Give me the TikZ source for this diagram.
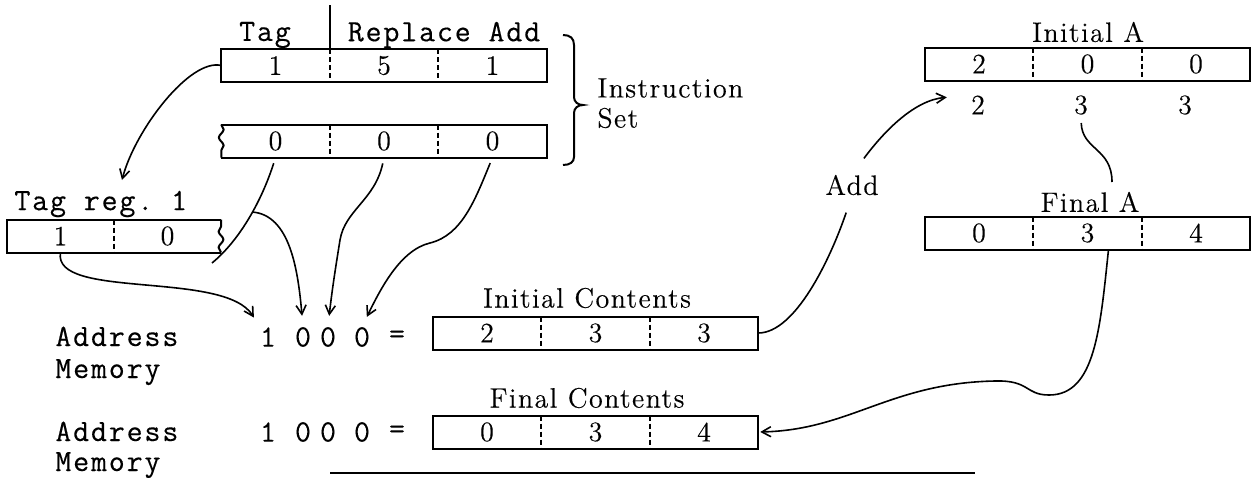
\documentclass[tikz,border=0pt]{standalone}
\usepackage{fontspec}
\setmainfont{Latin Modern Roman}[FakeBold=0.3]
\setmonofont{Latin Modern Mono}[FakeBold=0.3]
\usetikzlibrary{arrows.meta,positioning,decorations.pathmorphing}

\newcommand{\lblfont}{\fontsize{14pt}{16pt}\selectfont\addfontfeature{LetterSpace=5}}
\newcommand{\typfont}{\ttfamily\fontsize{15.5pt}{18pt}\selectfont\addfontfeature{LetterSpace=6}}

\begin{document}
\begin{tikzpicture}[
    x=0.5pt, y=-0.5pt,
    cell/.style={minimum width=54.25pt, minimum height=16.5pt, inner sep=0pt, outer sep=0pt, font=\lblfont},
    frame/.style={line width=1pt},
    div/.style={line width=0.8pt, dash pattern=on 2.5pt off 1.5pt},
    con/.style={line width=0.8pt},
    arr/.style={-{Straight Barb[length=4.5pt,width=5pt]}, line width=0.8pt},
    lbl/.style={font=\lblfont, inner sep=0pt},
    typ/.style={font=\typfont, inner sep=0pt},
    wavy/.style={frame, decorate, decoration={snake, segment length=8pt, amplitude=1.2pt}}
]
\useasboundingbox (0,0) rectangle (1252,477);

% instruction set
\node[cell] (i1b) at (384,65.5) {5};
\node[cell, left=0pt of i1b] (i1a) {1};
\node[cell, right=0pt of i1b] (i1c) {1};
\draw[frame] (i1a.north west) rectangle (i1c.south east);
\draw[div] (i1a.north east) -- (i1a.south east);
\draw[div] (i1b.north east) -- (i1b.south east);
\draw[frame] (i1a.north east) -- ++(0,-44);
\node[typ] (tagh) at (265,35) {Tag};
\node[typ] (reph) at (444,35) {Replace Add};

\node[cell] (i2b) at (384,141) {0};
\node[cell, left=0pt of i2b] (i2a) {0};
\node[cell, right=0pt of i2b] (i2c) {0};
\draw[frame] (i2a.south west) -- (i2c.south east) -- (i2c.north east) -- (i2a.north west);
\draw[wavy] (i2a.north west) -- (i2a.south west);
\draw[div] (i2a.north east) -- (i2a.south east);
\draw[div] (i2b.north east) -- (i2b.south east);

\draw[frame] (563,35) .. controls (570,35) and (574,38) .. (574,45) -- (574,97)
  .. controls (574,102) and (578,105) .. (583,105)
  .. controls (578,105) and (574,108) .. (574,113) -- (574,157)
  .. controls (574,162) and (570,165) .. (563,165);
\node[lbl, anchor=west] (instr) at (597,88) {Instruction};
\node[lbl, anchor=west] (iset) at (597,118) {Set};

% tag register
\node[typ, anchor=west] (tregl) at (14,204) {Tag reg. 1};
\node[cell, minimum width=53.5pt] (tr1) at (60.5,236) {1};
\node[cell, minimum width=53.5pt, right=0pt of tr1] (tr2) {0};
\draw[frame] (tr2.north east) -- (tr1.north west) -- (tr1.south west) -- (tr2.south east);
\draw[wavy] (tr2.south east) -- (tr2.north east);
\draw[div] (tr1.north east) -- (tr1.south east);

% memory
\node[typ, anchor=base west] (adr1) at (55,346) {Address};
\node[typ, anchor=base west] (mem1) at (55,378) {Memory};
\node[typ] (d1) at (268,337) {1};
\node[typ] (d2) at (303,337) {0};
\node[typ] (d3) at (328,337) {0};
\node[typ] (d4) at (362,337) {0};
\node[typ] (eq1) at (397,337) {=};
\node[lbl] (icl) at (587,298) {Initial Contents};
\node[cell] (ic2) at (595.5,333) {3};
\node[cell, left=0pt of ic2] (ic1) {2};
\node[cell, right=0pt of ic2] (ic3) {3};
\draw[frame] (ic1.north west) rectangle (ic3.south east);
\draw[div] (ic1.north east) -- (ic1.south east);
\draw[div] (ic2.north east) -- (ic2.south east);

\node[typ, anchor=base west] (adr2) at (55,441) {Address};
\node[typ, anchor=base west] (mem2) at (55,471) {Memory};
\node[typ] (e1) at (268,432) {1};
\node[typ] (e2) at (303,432) {0};
\node[typ] (e3) at (328,432) {0};
\node[typ] (e4) at (362,432) {0};
\node[typ] (eq2) at (397,432) {=};
\node[lbl] (fcl) at (587,398) {Final Contents};
\node[cell] (fc2) at (595.5,432) {3};
\node[cell, left=0pt of fc2] (fc1) {0};
\node[cell, right=0pt of fc2] (fc3) {4};
\draw[frame] (fc1.north west) rectangle (fc3.south east);
\draw[div] (fc1.north east) -- (fc1.south east);
\draw[div] (fc2.north east) -- (fc2.south east);
\draw[frame] (330,473) -- (975,473);

% accumulator
\node[lbl] (ial) at (1088,32) {Initial A};
\node[cell] (ia2) at (1087.5,64) {0};
\node[cell, left=0pt of ia2] (ia1) {2};
\node[cell, right=0pt of ia2] (ia3) {0};
\draw[frame] (ia1.north west) rectangle (ia3.south east);
\draw[div] (ia1.north east) -- (ia1.south east);
\draw[div] (ia2.north east) -- (ia2.south east);
\node[lbl] (s1) at (978,105) {2};
\node[lbl] (s2) at (1081,105) {3};
\node[lbl] (s3) at (1185,105) {3};

\node[lbl] (fal) at (1090,202) {Final A};
\node[cell] (fa2) at (1087.5,233) {3};
\node[cell, left=0pt of fa2] (fa1) {0};
\node[cell, right=0pt of fa2] (fa3) {4};
\draw[frame] (fa1.north west) rectangle (fa3.south east);
\draw[div] (fa1.north east) -- (fa1.south east);
\draw[div] (fa2.north east) -- (fa2.south east);
\node[lbl] (add) at (852,185) {Add};

\coordinate (tregtip) at (122,180);
\coordinate (ln1end) at (212,263);
\coordinate (fatop) at (1112,182);

% connectors
\draw[arr] (i1a.west) .. controls (190,58) and (135,130) .. (tregtip);
\draw[arr, shorten >=5.5pt] (tr1.south) .. controls (52,300) and (225,270) .. (d1.north west);
\draw[con, shorten <=3pt] (i2a.south) .. controls (262,200) and (240,240) .. (ln1end) coordinate[pos=0.45] (br);
\draw[arr, shorten >=5.5pt] (br) .. controls (290,215) and (298,270) .. (d2.north);
\draw[arr, shorten <=3pt, shorten >=5.5pt] (i2b.south) .. controls (375,200) and (345,210) .. (340,240)
  .. controls (336,265) and (332,290) .. (d3.north);
\draw[arr, shorten <=3pt, shorten >=5.5pt] (i2c.south) .. controls (475,200) and (462,235) .. (430,243)
  .. controls (400,250) and (380,290) .. (d4.north);
\draw[con, shorten >=9pt] (ic3.east) .. controls (795,333) and (830,260) .. (add.south);
\draw[arr, shorten <=10pt, shorten >=12pt] (add.north) .. controls (885,130) and (915,100) .. (s1.north west);
\draw[con, shorten <=4pt] (s2.south) .. controls (1082,150) and (1112,148) .. (fatop);
\draw[arr, shorten >=1pt] ([xshift=10.5pt]fa2.south) .. controls (1100,330) and (1095,395) .. (1049,395)
  .. controls (1025,395) and (1030,380) .. (995,381)
  .. controls (890,383) and (850,430) .. (fc3.east);
\end{tikzpicture}
\end{document}
